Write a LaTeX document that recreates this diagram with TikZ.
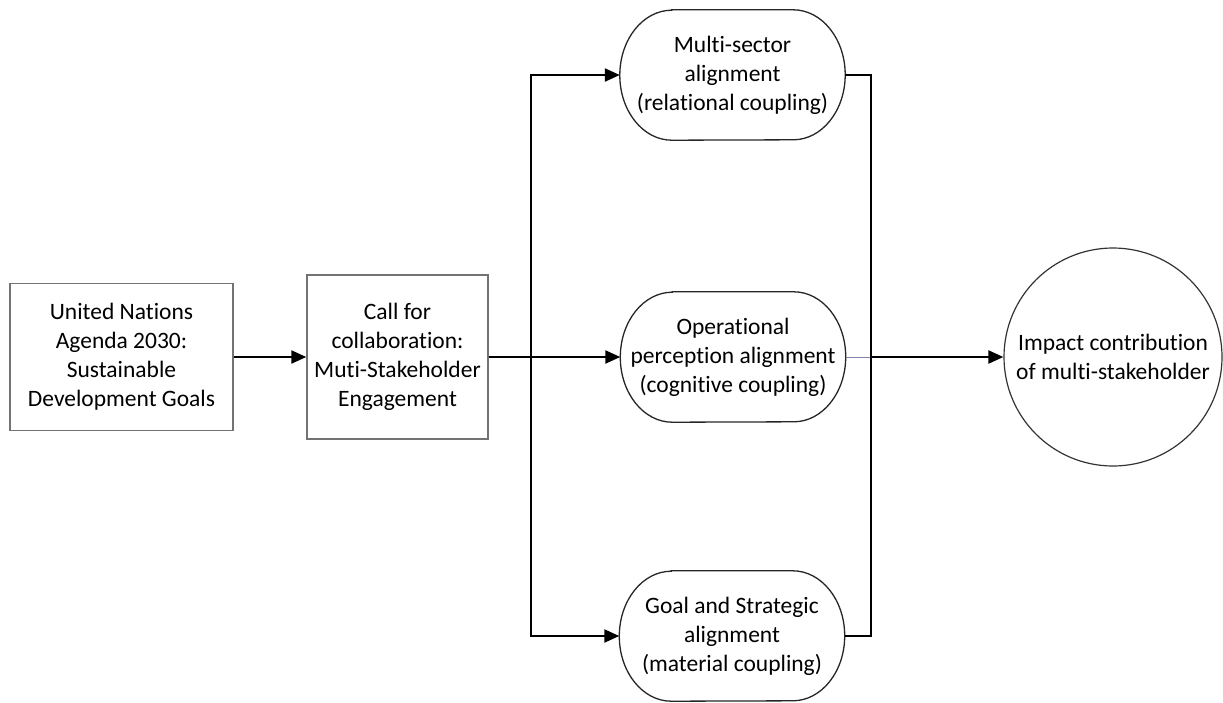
\documentclass[tikz,border=0pt]{standalone}
\usepackage{fontspec}
\setmainfont[Ligatures={NoCommon}]{Carlito}
\usetikzlibrary{arrows.meta}
\begin{document}
\begin{tikzpicture}[x=1pt,y=-1pt,
  every node/.style={font=\fontsize{23.5}{29}\selectfont, align=center, inner sep=0pt},
  boxnode/.style={draw=black!55, line width=1.4pt},
  pill/.style={minimum width=225pt, minimum height=130pt},
  pillline/.style={draw=black!85, line width=1.3pt},
  conn/.style={line width=2.2pt, black},
  arr/.style={conn, -{Triangle[length=15pt,width=13pt]}},
  thinconn/.style={line width=1pt, color=blue!35!black!50}
]
\useasboundingbox (0,0) rectangle (1223,702);
\node[boxnode, minimum width=223pt, minimum height=147pt] (un) at (121.5,357) {United Nations\\Agenda 2030:\\Sustainable\\Development Goals};
\node[boxnode, minimum width=181pt, minimum height=164pt] (call) at (397.5,357) {Call for\\collaboration:\\Muti-Stakeholder\\Engagement};
\node[pill] (top) at (732.5,75) {Multi-sector\\alignment\\(relational coupling)};
\node[pill] (mid) at (733,357) {Operational\\perception alignment\\(cognitive coupling)};
\node[pill] (bot) at (732,636) {Goal and Strategic\\alignment\\(material coupling)};
\foreach \n in {top,mid,bot}{
  \draw[pillline] ([xshift=52pt]\n.north west) -- ([xshift=-52pt]\n.north east)
    arc[start angle=90, end angle=-90, x radius=52pt, y radius=65pt]
    -- ([xshift=52pt]\n.south west)
    arc[start angle=270, end angle=90, x radius=52pt, y radius=65pt] -- cycle;
}
\node[circle, draw=black!80, line width=1.2pt, minimum size=218pt] (imp) at (1113,357) {Impact contribution\\of multi-stakeholder};
\coordinate (jl) at (531,357);
\coordinate (jr) at (871,357);
\draw[arr] (un.east) -- (call.west);
\draw[conn] (call.east) -- (jl);
\draw[arr] (jl) -- (mid.west);
\draw[arr] (jl) |- (top.west);
\draw[arr] (jl) |- (bot.west);
\draw[thinconn] (mid.east) -- (jr);
\draw[conn] (top.east) -| (jr);
\draw[conn] (bot.east) -| (jr);
\draw[arr] (jr) -- (imp.west);
\end{tikzpicture}
\end{document}
